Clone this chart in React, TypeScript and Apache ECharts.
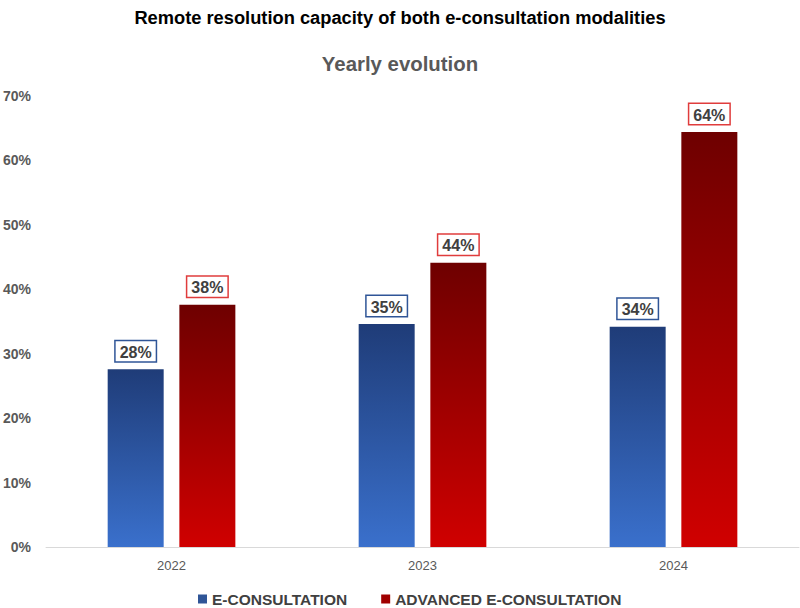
import React, { useEffect, useRef } from "react";
import * as echarts from "echarts";

const years = ["2022", "2023", "2024"];
const eConsultation = [27.6, 34.6, 34.2];
const advancedEConsultation = [37.6, 44.1, 64.4];
const seriesNames = ["E-CONSULTATION", "ADVANCED E-CONSULTATION"];

const FONT = "Liberation Sans, Arial, sans-serif";

function gradient(top: string, bottom: string) {
  return new echarts.graphic.LinearGradient(0, 0, 0, 1, [
    { offset: 0, color: top },
    { offset: 1, color: bottom },
  ]);
}

export default function App() {
  const ref = useRef<HTMLDivElement>(null);

  useEffect(() => {
    if (!ref.current) return;
    const chart = echarts.init(ref.current, undefined, { renderer: "svg" });
    const labelBase = {
      show: true,
      position: "top" as const,
      distance: 8,
      formatter: (p: any) => `${Math.round(p.value)}%`,
      fontFamily: FONT,
      fontWeight: "bold" as const,
      fontSize: 16,
      color: "#404040",
      backgroundColor: "#ffffff",
      borderWidth: 1.5,
      padding: [3, 4, 1, 4],
    };
    chart.setOption({
      animation: false,
      backgroundColor: "#ffffff",
      title: [
        {
          text: "Remote resolution capacity of both e-consultation modalities",
          left: "center",
          top: 3,
          textStyle: { fontFamily: FONT, fontSize: 18.3, fontWeight: "bold", color: "#000000" },
        },
        {
          text: "Yearly evolution",
          left: "center",
          top: 49,
          textStyle: { fontFamily: FONT, fontSize: 20.4, fontWeight: "bold", color: "#595959" },
        },
      ],
      legend: {
        top: 591,
        left: 198,
        itemWidth: 9,
        itemHeight: 9,
        itemGap: 34,
        icon: "rect",
        padding: 0,
        textStyle: { fontFamily: FONT, fontSize: 15.5, fontWeight: "bold", color: "#404040" },
        data: [
          { name: seriesNames[0], itemStyle: { color: "#2f5597" } },
          { name: seriesNames[1], itemStyle: { color: "#a00000" } },
        ],
      },
      grid: { left: 43, right: 1, top: 96, bottom: 61 },
      xAxis: {
        type: "category",
        data: years,
        axisLine: { lineStyle: { color: "#d9d9d9", width: 1 } },
        axisTick: { show: false },
        axisLabel: { fontFamily: FONT, fontSize: 13, color: "#595959", margin: 12 },
      },
      yAxis: {
        type: "value",
        min: 0,
        max: 70,
        interval: 10,
        splitLine: { show: false },
        axisLine: { show: false },
        axisTick: { show: false },
        axisLabel: {
          formatter: "{value}%",
          fontFamily: FONT,
          fontSize: 14,
          fontWeight: "bold",
          color: "#595959",
          margin: 15,
        },
      },
      series: [
        {
          name: seriesNames[0],
          type: "bar",
          data: eConsultation,
          barWidth: 56,
          barGap: "28%",
          itemStyle: { color: gradient("#1f3c78", "#3a70cc") },
          label: { ...labelBase, borderColor: "#2f5597" },
        },
        {
          name: seriesNames[1],
          type: "bar",
          data: advancedEConsultation,
          barWidth: 56,
          itemStyle: { color: gradient("#6e0000", "#d00000") },
          label: { ...labelBase, borderColor: "#e03c3c" },
        },
      ],
    });
    return () => chart.dispose();
  }, []);

  return (
    <div
      ref={ref}
      style={{ position: "absolute", left: 0, top: 0, width: 800, height: 608 }}
    />
  );
}
